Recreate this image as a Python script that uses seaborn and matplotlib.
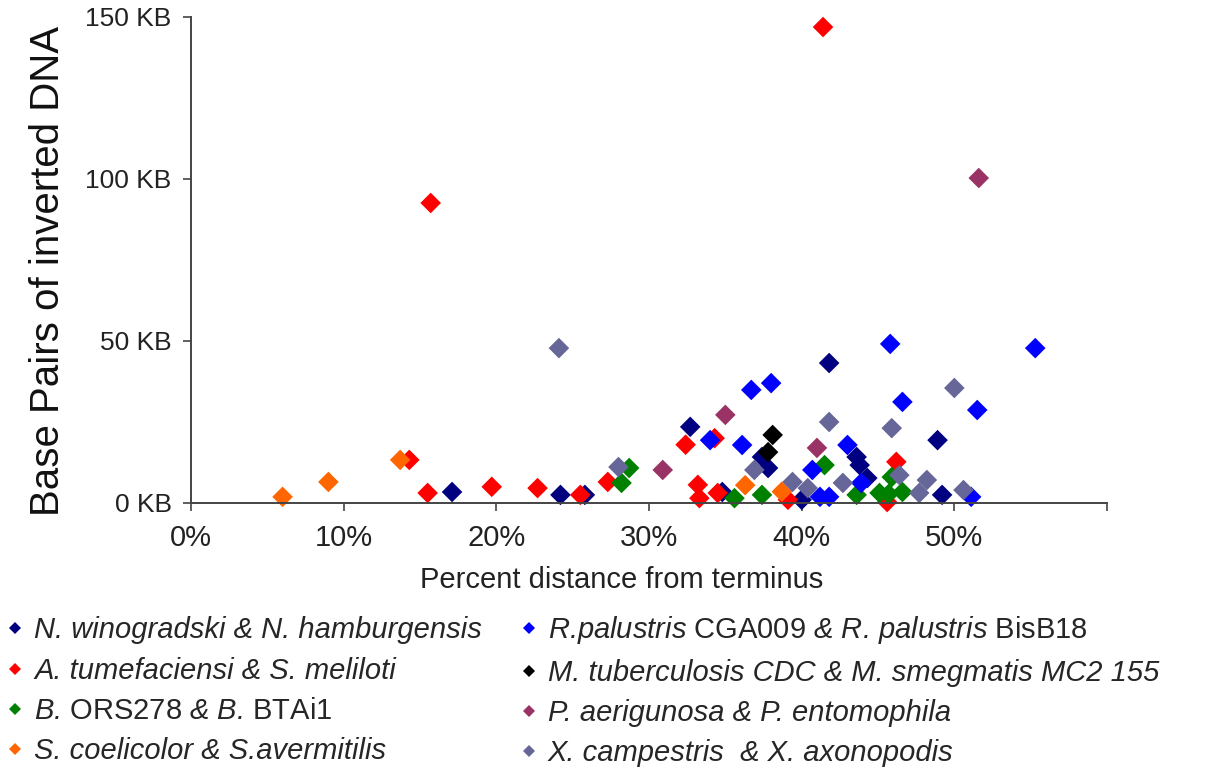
import matplotlib
matplotlib.use("Agg")
import matplotlib.pyplot as plt
import seaborn as sns
import pandas as pd

# ---- data (percent distance from terminus, KB of inverted DNA) ----
series_names = [
    "N. winogradski & N. hamburgensis",
    "A. tumefaciensi & S. meliloti",
    "B. ORS278 & B. BTAi1",
    "S. coelicolor & S.avermitilis",
    "R.palustris CGA009 & R. palustris BisB18",
    "M. tuberculosis CDC & M. smegmatis MC2 155",
    "P. aerigunosa & P. entomophila",
    "X. campestris  & X. axonopodis",
]
legend_labels = [
    "N. winogradski & N. hamburgensis",
    "A. tumefaciensi & S. meliloti",
    r"B. $\mathrm{ORS278}$ & B. $\mathrm{BTAi1}$",
    "S. coelicolor & S.avermitilis",
    r"R.palustris $\mathrm{CGA009}$ & R. palustris $\mathrm{BisB18}$",
    "M. tuberculosis CDC & M. smegmatis MC2 155",
    "P. aerigunosa & P. entomophila",
    "X. campestris  & X. axonopodis",
]
series_colors = ["#000080", "#FF0000", "#008000", "#FF6600",
                 "#0000FF", "#000000", "#993366", "#666699"]

n_x = [17.1, 24.2, 25.8, 32.7, 34.8, 37.4, 37.8, 41.8, 43.6, 43.8, 44.3, 40.0, 48.9, 49.2]
n_y = [3.4, 2.5, 2.5, 23.5, 3.4, 14.2, 10.8, 43.2, 14.2, 11.7, 7.7, 1.0, 19.4, 2.5]

a_x = [15.7, 41.4, 14.3, 15.5, 19.7, 22.7, 25.5, 27.3, 32.4, 34.3, 33.2, 33.3, 34.5, 39.1, 46.2, 45.6]
a_y = [92.6, 146.9, 13.3, 3.1, 5.0, 4.6, 2.5, 6.5, 18.0, 20.0, 5.6, 1.5, 3.1, 1.0, 12.7, 0.3]

b_x = [28.7, 28.2, 35.6, 37.4, 41.5, 43.6, 45.1, 45.7, 45.9, 46.6]
b_y = [10.8, 6.2, 1.5, 2.5, 11.7, 2.5, 3.1, 2.8, 8.0, 3.4]

s_x = [6.0, 9.0, 13.7, 36.3, 38.7]
s_y = [1.9, 6.5, 13.3, 5.5, 3.5]

r_x = [36.7, 38.0, 36.1, 34.0, 45.8, 55.3, 46.6, 51.5, 43.0, 40.7, 41.2, 41.8, 43.9, 51.1]
r_y = [34.9, 37.0, 17.9, 19.4, 49.1, 47.8, 31.2, 28.7, 17.9, 10.2, 1.9, 1.9, 6.2, 1.9]

m_x = [38.1, 37.8]
m_y = [21.0, 15.7]

p_x = [51.6, 35.0, 30.9, 41.0]
p_y = [100.3, 27.2, 10.2, 17.0]

x_x = [24.1, 28.0, 36.9, 39.4, 41.8, 45.9, 50.0, 40.4, 42.7, 46.4, 48.2, 47.7, 50.6]
x_y = [47.8, 11.1, 10.2, 6.5, 25.0, 23.1, 35.5, 4.6, 6.2, 8.6, 7.1, 3.1, 4.0]

x_ticks = [0, 10, 20, 30, 40, 50, 60]
x_tick_labels = ["0%", "10%", "20%", "30%", "40%", "50%", ""]
y_ticks = [0, 50, 100, 150]
y_tick_labels = ["0 KB", "50 KB", "100 KB", "150 KB"]

# ---- build table ----
xs_all = [n_x, a_x, b_x, s_x, r_x, m_x, p_x, x_x]
ys_all = [n_y, a_y, b_y, s_y, r_y, m_y, p_y, x_y]
rows = []
for name, xs, ys in zip(series_names, xs_all, ys_all):
    for xv, yv in zip(xs, ys):
        rows.append({"pct": xv, "kb": yv, "series": name})
df = pd.DataFrame(rows)

sns.set_theme(style="white")
plt.rcParams["font.family"] = ["Liberation Sans", "DejaVu Sans"]
plt.rcParams["mathtext.fontset"] = "custom"
plt.rcParams["mathtext.rm"] = "Liberation Sans"
plt.rcParams["mathtext.it"] = "Liberation Sans:italic"

fig = plt.figure(figsize=(12.09, 7.80), dpi=100)
ax = fig.add_axes([191 / 1209, 1 - 503 / 780, (1107 - 191) / 1209, (503 - 17) / 780])

palette = dict(zip(series_names, series_colors))
sns.scatterplot(data=df, x="pct", y="kb", hue="series", hue_order=series_names,
                palette=palette, marker="D", s=110, linewidth=0, ax=ax,
                clip_on=False, legend=True)

ax.set_xlim(0, 60)
ax.set_ylim(0, 150)
ax.set_xticks(x_ticks)
ax.set_xticklabels(x_tick_labels, fontsize=21, color="#222222")
ax.set_yticks(y_ticks)
ax.set_yticklabels(y_tick_labels, fontsize=19, color="#222222")
ax.tick_params(axis="both", which="major", direction="out", length=6, width=1.2,
               color="#444444", bottom=True, left=True)
ax.tick_params(axis="x", pad=9)
ax.tick_params(axis="y", pad=8)
for side in ["top", "right"]:
    ax.spines[side].set_visible(False)
for side in ["left", "bottom"]:
    ax.spines[side].set_color("#444444")
    ax.spines[side].set_linewidth(1.4)
ax.grid(False)

ax.set_xlabel("Percent distance from terminus", fontsize=21, color="#222222")
ax.xaxis.set_label_coords((622 - 191) / 916, -(566 - 503) / 486)
ax.set_ylabel("Base Pairs of inverted DNA", fontsize=29, color="#111111")
ax.yaxis.set_label_coords((67 - 191) / 916, (503 - 271) / 486)

handles, labels = ax.get_legend_handles_labels()
lab_map = dict(zip(series_names, legend_labels))
new_labels = [lab_map.get(l, l) for l in labels]
ax.legend(handles, new_labels, loc="upper left",
          bbox_to_anchor=(-0.008, 1 - 597 / 780), bbox_transform=fig.transFigure,
          ncol=2, frameon=False, markerscale=0.6,
          prop={"size": 21, "style": "italic", "family": "Liberation Sans"},
          handlelength=0.5, handletextpad=0.4, labelspacing=0.42,
          columnspacing=1.35, borderaxespad=0.2)

fig.savefig("out.png", dpi=100, facecolor="white")
